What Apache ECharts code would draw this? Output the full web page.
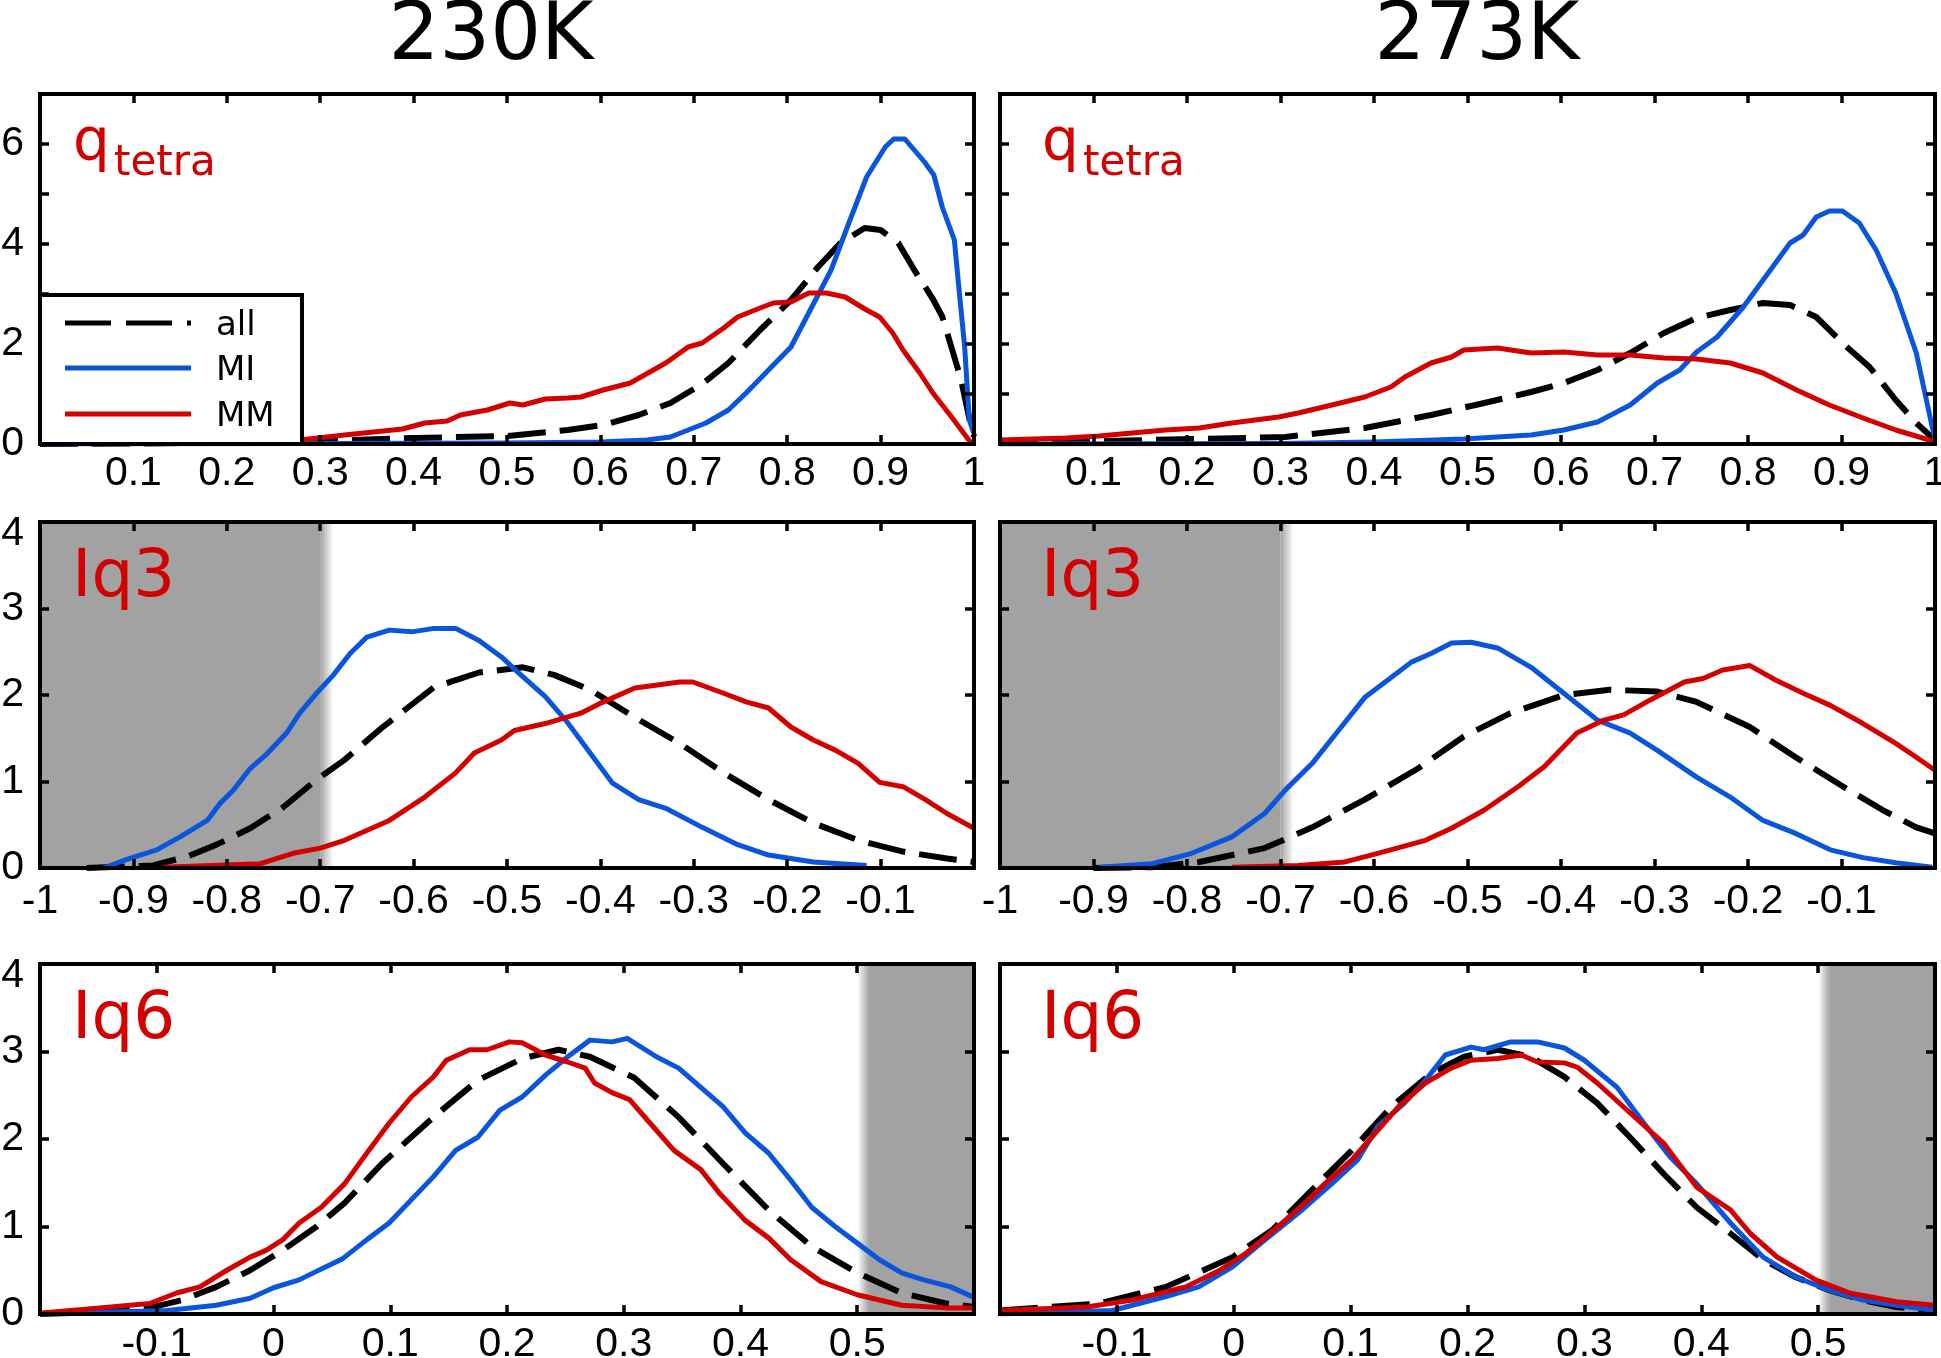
<!DOCTYPE html>
<html>
<head>
<meta charset="utf-8">
<script src="https://cdn.jsdelivr.net/npm/echarts@6.0.0/dist/echarts.min.js"></script>
<style>
    html, body { margin: 0; padding: 0; background: #fff; }
    #charts { width: 1941px; height: 1358px; }
</style>
</head>
<body>
<div id="charts"></div>
<script>
// column titles and panel labels
var colTitles = ['230K', '273K'];
var rowLabels = ['q', 'Iq3', 'Iq6'];
var seriesNames = ['all', 'MI', 'MM'];

// x ranges of each row
var rowXMin = [0, -1, -0.2];
var rowXMax = [1, 0, 0.6];
var rowYMax = [7, 4, 4];

// q_tetra, 230K  ([x, density])
var tetra230All = [[0,0],[0.1,0.01],[0.2,0.03],[0.3,0.06],[0.4,0.12],[0.5,0.16],[0.565,0.28],[0.603,0.38],[0.641,0.58],[0.675,0.82],[0.709,1.2],[0.737,1.62],[0.771,2.28],[0.804,2.88],[0.833,3.54],[0.857,4.02],[0.883,4.32],[0.9,4.28],[0.919,4.02],[0.938,3.42],[0.956,2.9],[0.966,2.55],[0.978,1.8],[0.986,1.3],[0.996,0.42],[1,0.15]];
var tetra230MI = [[0,0],[0.3,0.01],[0.5,0.02],[0.6,0.04],[0.65,0.08],[0.675,0.14],[0.694,0.28],[0.713,0.42],[0.737,0.68],[0.756,1.02],[0.78,1.48],[0.804,1.94],[0.823,2.62],[0.847,3.48],[0.866,4.42],[0.885,5.34],[0.905,5.94],[0.914,6.1],[0.926,6.1],[0.947,5.64],[0.957,5.38],[0.966,4.74],[0.979,4.08],[0.983,3.28],[0.99,1.94],[0.995,0.48],[1,0.2]];
var tetra230MM = [[0,0.02],[0.1,0.04],[0.2,0.06],[0.278,0.08],[0.326,0.18],[0.388,0.3],[0.412,0.42],[0.436,0.46],[0.45,0.58],[0.479,0.68],[0.503,0.82],[0.517,0.78],[0.541,0.9],[0.565,0.92],[0.579,0.94],[0.603,1.08],[0.632,1.22],[0.67,1.62],[0.694,1.94],[0.709,2.02],[0.732,2.32],[0.747,2.54],[0.771,2.72],[0.785,2.82],[0.804,2.84],[0.823,3.02],[0.842,3.02],[0.862,2.94],[0.885,2.68],[0.899,2.54],[0.913,2.22],[0.924,1.88],[0.942,1.42],[0.956,1.02],[0.976,0.54],[0.996,0.04],[1,0]];

// q_tetra, 273K
var tetra273All = [[0,0.02],[0.106,0.06],[0.213,0.1],[0.305,0.14],[0.39,0.32],[0.461,0.58],[0.518,0.82],[0.568,1.04],[0.603,1.22],[0.639,1.48],[0.674,1.82],[0.71,2.22],[0.745,2.52],[0.781,2.68],[0.816,2.82],[0.845,2.78],[0.873,2.54],[0.901,2.02],[0.93,1.54],[0.958,0.88],[0.98,0.42],[0.994,0.18],[1,0.05]];
var tetra273MI = [[0,0],[0.3,0.01],[0.4,0.04],[0.496,0.1],[0.568,0.18],[0.603,0.28],[0.639,0.44],[0.674,0.78],[0.703,1.22],[0.727,1.48],[0.745,1.84],[0.767,2.14],[0.795,2.74],[0.824,3.48],[0.845,4.02],[0.859,4.18],[0.873,4.54],[0.887,4.66],[0.901,4.66],[0.919,4.42],[0.937,3.88],[0.958,3.02],[0.98,1.82],[0.997,0.34],[1,0.1]];
var tetra273MM = [[0,0.08],[0.071,0.12],[0.106,0.16],[0.177,0.28],[0.213,0.32],[0.248,0.42],[0.298,0.54],[0.319,0.62],[0.355,0.78],[0.39,0.94],[0.418,1.14],[0.433,1.34],[0.461,1.62],[0.483,1.74],[0.496,1.88],[0.532,1.92],[0.568,1.82],[0.603,1.84],[0.639,1.78],[0.674,1.78],[0.71,1.72],[0.745,1.7],[0.781,1.62],[0.816,1.42],[0.852,1.08],[0.887,0.78],[0.923,0.52],[0.958,0.28],[0.994,0.08],[1,0.04]];

// Iq3, 230K
var lq3_230All = [[-0.95,0],[-0.879,0.03],[-0.843,0.13],[-0.811,0.27],[-0.775,0.46],[-0.74,0.7],[-0.704,1.02],[-0.674,1.25],[-0.633,1.63],[-0.578,2.09],[-0.53,2.26],[-0.483,2.32],[-0.449,2.23],[-0.411,2.06],[-0.363,1.74],[-0.315,1.44],[-0.268,1.1],[-0.22,0.79],[-0.172,0.52],[-0.124,0.32],[-0.076,0.19],[-0.029,0.11],[0,0.07]];
var lq3_230MI = [[-0.932,0],[-0.907,0.1],[-0.875,0.21],[-0.85,0.36],[-0.821,0.55],[-0.807,0.75],[-0.793,0.9],[-0.775,1.15],[-0.757,1.32],[-0.736,1.56],[-0.722,1.79],[-0.704,2.02],[-0.686,2.23],[-0.668,2.48],[-0.65,2.67],[-0.626,2.75],[-0.602,2.73],[-0.578,2.77],[-0.555,2.77],[-0.53,2.63],[-0.506,2.44],[-0.487,2.25],[-0.459,1.98],[-0.435,1.68],[-0.411,1.33],[-0.387,0.98],[-0.359,0.79],[-0.33,0.69],[-0.291,0.47],[-0.253,0.27],[-0.22,0.15],[-0.172,0.07],[-0.115,0.03]];
var lq3_230MM = [[-0.868,0.01],[-0.764,0.05],[-0.729,0.17],[-0.7,0.23],[-0.674,0.32],[-0.626,0.55],[-0.588,0.82],[-0.555,1.1],[-0.535,1.33],[-0.506,1.48],[-0.492,1.59],[-0.459,1.67],[-0.421,1.79],[-0.401,1.9],[-0.363,2.08],[-0.315,2.15],[-0.301,2.15],[-0.268,2.02],[-0.244,1.92],[-0.22,1.85],[-0.196,1.63],[-0.172,1.48],[-0.148,1.36],[-0.124,1.21],[-0.101,0.99],[-0.076,0.94],[-0.052,0.79],[-0.029,0.63],[0,0.46]];

// Iq3, 273K
var lq3_273All = [[-0.9,0],[-0.837,0.01],[-0.787,0.07],[-0.717,0.23],[-0.666,0.47],[-0.61,0.79],[-0.553,1.15],[-0.504,1.52],[-0.454,1.79],[-0.397,2.0],[-0.348,2.06],[-0.297,2.04],[-0.255,1.92],[-0.198,1.63],[-0.149,1.28],[-0.098,0.94],[-0.056,0.67],[-0.02,0.47],[0,0.4]];
var lq3_273MI = [[-0.894,0.01],[-0.837,0.05],[-0.795,0.17],[-0.752,0.36],[-0.717,0.63],[-0.695,0.9],[-0.666,1.21],[-0.638,1.59],[-0.61,1.97],[-0.582,2.2],[-0.56,2.38],[-0.539,2.48],[-0.517,2.6],[-0.496,2.61],[-0.467,2.54],[-0.432,2.32],[-0.397,2.02],[-0.361,1.71],[-0.326,1.56],[-0.297,1.36],[-0.255,1.05],[-0.219,0.82],[-0.184,0.55],[-0.149,0.4],[-0.112,0.21],[-0.077,0.12],[-0.042,0.06],[-0.003,0.01]];
var lq3_273MM = [[-0.752,0.01],[-0.681,0.03],[-0.631,0.07],[-0.596,0.17],[-0.545,0.32],[-0.517,0.46],[-0.482,0.67],[-0.446,0.94],[-0.418,1.17],[-0.383,1.56],[-0.354,1.71],[-0.333,1.77],[-0.305,1.94],[-0.268,2.15],[-0.248,2.19],[-0.227,2.29],[-0.198,2.34],[-0.17,2.17],[-0.141,2.02],[-0.112,1.88],[-0.077,1.67],[-0.042,1.44],[-0.02,1.28],[0,1.13]];

// Iq6, 230K
var lq6_230All = [[-0.2,0],[-0.15,0.02],[-0.106,0.07],[-0.078,0.16],[-0.049,0.31],[-0.02,0.5],[0.008,0.73],[0.037,1.0],[0.061,1.27],[0.093,1.72],[0.137,2.25],[0.175,2.67],[0.213,2.92],[0.244,3.02],[0.271,2.94],[0.309,2.7],[0.347,2.25],[0.385,1.72],[0.424,1.19],[0.461,0.77],[0.5,0.47],[0.538,0.24],[0.576,0.12],[0.6,0.08]];
var lq6_230MI = [[-0.2,0],[-0.149,0.02],[-0.091,0.04],[-0.049,0.1],[-0.02,0.18],[0,0.3],[0.022,0.39],[0.031,0.45],[0.059,0.63],[0.08,0.85],[0.099,1.04],[0.137,1.57],[0.156,1.87],[0.175,2.02],[0.194,2.33],[0.213,2.48],[0.233,2.73],[0.252,2.94],[0.271,3.13],[0.29,3.11],[0.303,3.15],[0.328,2.94],[0.347,2.81],[0.366,2.59],[0.385,2.37],[0.404,2.07],[0.424,1.84],[0.443,1.53],[0.461,1.22],[0.481,1.0],[0.5,0.81],[0.519,0.62],[0.538,0.47],[0.557,0.39],[0.58,0.31],[0.6,0.19]];
var lq6_230MM = [[-0.2,0.01],[-0.191,0.02],[-0.149,0.07],[-0.106,0.12],[-0.083,0.24],[-0.063,0.31],[-0.04,0.5],[-0.02,0.65],[-0.006,0.73],[0.008,0.85],[0.022,1.04],[0.041,1.22],[0.061,1.49],[0.08,1.84],[0.099,2.18],[0.118,2.48],[0.137,2.71],[0.148,2.9],[0.168,3.02],[0.183,3.02],[0.202,3.11],[0.213,3.1],[0.233,2.96],[0.252,2.88],[0.267,2.81],[0.275,2.64],[0.29,2.53],[0.305,2.45],[0.32,2.22],[0.343,1.87],[0.366,1.65],[0.382,1.38],[0.404,1.07],[0.424,0.87],[0.443,0.62],[0.469,0.37],[0.5,0.22],[0.538,0.1],[0.576,0.07],[0.6,0.07]];

// Iq6, 273K
var lq6_273All = [[-0.2,0.04],[-0.115,0.12],[-0.058,0.31],[-0.001,0.65],[0.033,0.96],[0.067,1.42],[0.101,1.87],[0.135,2.37],[0.169,2.75],[0.197,2.94],[0.226,3.02],[0.254,2.94],[0.283,2.71],[0.311,2.41],[0.339,2.02],[0.368,1.6],[0.396,1.22],[0.425,0.92],[0.453,0.62],[0.481,0.42],[0.51,0.27],[0.538,0.16],[0.567,0.08],[0.6,0.04]];
var lq6_273MI = [[-0.2,0],[-0.104,0.04],[-0.058,0.2],[-0.03,0.31],[-0.001,0.54],[0.027,0.85],[0.055,1.15],[0.084,1.49],[0.106,1.76],[0.123,2.14],[0.146,2.41],[0.164,2.67],[0.181,2.96],[0.203,3.05],[0.214,3.02],[0.237,3.11],[0.26,3.11],[0.283,3.04],[0.3,2.9],[0.328,2.59],[0.351,2.18],[0.373,1.8],[0.396,1.49],[0.425,1.04],[0.453,0.65],[0.481,0.42],[0.51,0.27],[0.538,0.16],[0.567,0.1],[0.6,0.04]];
var lq6_273MM = [[-0.2,0.04],[-0.126,0.08],[-0.087,0.16],[-0.041,0.31],[-0.012,0.5],[0.01,0.69],[0.038,1.0],[0.061,1.27],[0.078,1.49],[0.101,1.76],[0.118,2.02],[0.141,2.37],[0.164,2.64],[0.186,2.81],[0.203,2.9],[0.226,2.92],[0.246,2.96],[0.26,2.88],[0.283,2.87],[0.294,2.82],[0.311,2.64],[0.339,2.3],[0.368,1.95],[0.396,1.45],[0.425,1.19],[0.442,0.92],[0.465,0.65],[0.498,0.39],[0.527,0.24],[0.567,0.14],[0.6,0.1]];

// grey (excluded) ranges per row: [solid from, solid to, fade end]
var shadeRanges = [null, [-1, -0.7, -0.686], [0.6, 0.51, 0.5]];

var panelData = [
    [tetra230All, tetra230MI, tetra230MM], [tetra273All, tetra273MI, tetra273MM],
    [lq3_230All, lq3_230MI, lq3_230MM], [lq3_273All, lq3_273MI, lq3_273MM],
    [lq6_230All, lq6_230MI, lq6_230MM], [lq6_273All, lq6_273MI, lq6_273MM]
];

var colLeft = [40, 1000], colWidth = [934, 935];
var rowTop = [94, 522, 964], rowHeight = [350, 346, 350];
var labelMargin = [9, 13, 10];
var lineColors = ['#000000', '#0a55dc', '#d40000'];
var GREY = '#a2a2a2';

var grids = [], xAxes = [], yAxes = [], series = [];

for (var r = 0; r < 3; r++) {
    for (var c = 0; c < 2; c++) {
        var i = r * 2 + c;
        grids.push({
            left: colLeft[c], top: rowTop[r], width: colWidth[c], height: rowHeight[r],
            show: true, borderColor: '#000', borderWidth: 4, backgroundColor: 'transparent',
            containLabel: false, outerBoundsMode: 'none'
        });
        var tickStyle = { show: true, inside: true, length: 9, lineStyle: { color: '#000', width: 3.5 } };
        var lineStyleAx = { show: true, onZero: false, lineStyle: { color: '#000', width: 4 } };
        ['bottom', 'top'].forEach(function (pos) {
            xAxes.push({
                gridIndex: i, type: 'value', position: pos,
                min: rowXMin[r], max: rowXMax[r], interval: 0.1,
                axisLine: lineStyleAx, axisTick: tickStyle, splitLine: { show: false },
                axisLabel: {
                    show: pos === 'bottom', color: '#000', fontFamily: 'Liberation Sans', fontSize: 41,
                    margin: labelMargin[r],
                    showMinLabel: r === 1, showMaxLabel: r === 0
                },
                z: 10
            });
        });
        ['left', 'right'].forEach(function (pos) {
            yAxes.push({
                gridIndex: i, type: 'value', position: pos,
                min: 0, max: rowYMax[r], interval: 1,
                axisLine: lineStyleAx, axisTick: tickStyle, splitLine: { show: false },
                axisLabel: {
                    show: pos === 'left' && c === 0, color: '#000', fontFamily: 'Liberation Sans', fontSize: 41,
                    margin: 16,
                    formatter: (function (row) {
                        return function (v) {
                            if (row === 0) return v % 2 === 0 ? String(v) : '';
                            if (v === 4) return '{low|4}';
                            return String(v);
                        };
                    })(r),
                    rich: { low: { padding: [24, 0, 0, 0], fontSize: 41, fontFamily: 'Liberation Sans', color: '#000' } }
                },
                z: 10
            });
        });

        // grey excluded band
        var sh = shadeRanges[r];
        if (sh) {
            var fadeDir = sh[2] > sh[1] ? [0, 0, 1, 0] : [1, 0, 0, 0];
            series.push({
                type: 'line', data: [], xAxisIndex: 2 * i, yAxisIndex: 2 * i, z: 1, silent: true,
                markArea: {
                    silent: true, z: 1,
                    itemStyle: { color: GREY, opacity: 1, borderWidth: 0 },
                    data: [
                        [{ xAxis: Math.min(sh[0], sh[1]) }, { xAxis: Math.max(sh[0], sh[1]) }],
                        [{ xAxis: Math.min(sh[1], sh[2]), itemStyle: { color: new echarts.graphic.LinearGradient(fadeDir[0], fadeDir[1], fadeDir[2], fadeDir[3], [
                            { offset: 0, color: GREY }, { offset: 1, color: 'rgba(162,162,162,0)' }]) } },
                         { xAxis: Math.max(sh[1], sh[2]) }]
                    ]
                }
            });
        }

        panelData[i].forEach(function (d, k) {
            series.push({
                type: 'line', name: seriesNames[k], data: d,
                xAxisIndex: 2 * i, yAxisIndex: 2 * i,
                showSymbol: false, symbol: 'none', silent: true, z: 3 + k,
                lineStyle: {
                    color: lineColors[k], width: k === 0 ? 6 : 5,
                    type: k === 0 ? [38, 14] : 'solid', cap: 'butt', join: 'round'
                }
            });
        });
    }
}

// texts: titles, panel labels, legend
var RED = '#d40000';
var graphics = [];
var titleX = [491, 1477];
colTitles.forEach(function (t, c) {
    graphics.push({ type: 'text', x: titleX[c], y: 38, z: 100,
        style: { text: t, font: '80px "DejaVu Sans"', fill: '#000', align: 'center', verticalAlign: 'middle', textAlign: 'center', textVerticalAlign: 'middle' } });
});
var labelX = [72, 1041];
[0, 1].forEach(function (c) {
    graphics.push({ type: 'text', x: labelX[c] + 1, y: 145, z: 100,
        style: { text: rowLabels[0], font: '58px "DejaVu Sans"', fill: RED, verticalAlign: 'middle', textVerticalAlign: 'middle' } });
    graphics.push({ type: 'text', x: labelX[c] + 42, y: 164, z: 100,
        style: { text: 'tetra', font: '42px "DejaVu Sans"', fill: RED, verticalAlign: 'middle', textVerticalAlign: 'middle' } });
    graphics.push({ type: 'text', x: labelX[c], y: 579, z: 100,
        style: { text: rowLabels[1], font: '66px "DejaVu Sans"', fill: RED, verticalAlign: 'middle', textVerticalAlign: 'middle' } });
    graphics.push({ type: 'text', x: labelX[c], y: 1021, z: 100,
        style: { text: rowLabels[2], font: '66px "DejaVu Sans"', fill: RED, verticalAlign: 'middle', textVerticalAlign: 'middle' } });
});

// legend box in the upper left panel
graphics.push({ type: 'rect', z: 100, shape: { x: 40, y: 295, width: 262, height: 149 },
    style: { fill: '#fff', stroke: '#000', lineWidth: 4 } });
var legendY = [323, 368, 414];
seriesNames.forEach(function (n, k) {
    graphics.push({ type: 'line', z: 101, shape: { x1: 65, y1: legendY[k], x2: 191, y2: legendY[k] },
        style: { stroke: lineColors[k], lineWidth: 5, lineDash: k === 0 ? [46, 15] : null } });
    graphics.push({ type: 'text', z: 101, x: 216, y: legendY[k] + 3,
        style: { text: n, font: '34px "DejaVu Sans"', fill: '#000', verticalAlign: 'middle', textVerticalAlign: 'middle' } });
});

var chartDom = document.getElementById('charts');
var myChart = echarts.init(chartDom, null, { renderer: 'canvas' });
var option = {
    backgroundColor: '#fff',
    animation: false,
    grid: grids,
    xAxis: xAxes,
    yAxis: yAxes,
    series: series,
    graphic: graphics
};
myChart.setOption(option);
</script>
</body>
</html>
